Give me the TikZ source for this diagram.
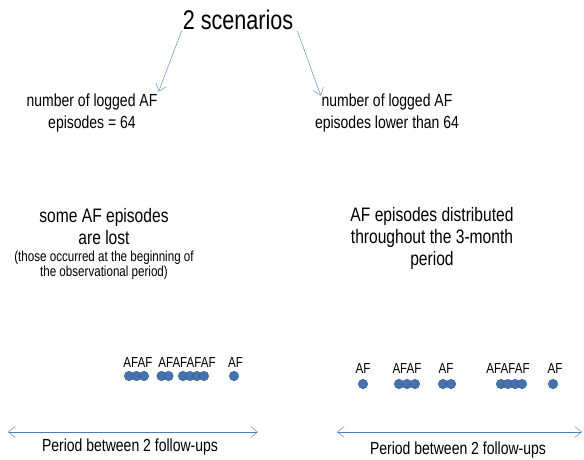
\documentclass[tikz,border=0pt]{standalone}
\usepackage{fontspec}
\setmainfont{Liberation Sans}[FakeStretch=0.8]
\usetikzlibrary{arrows.meta, positioning}
\definecolor{lineBlue}{RGB}{74,126,187}
\definecolor{dotFill}{RGB}{70,115,175}
\definecolor{dotEdge}{RGB}{50,85,130}
\tikzset{
    flowArrow/.style={-{Straight Barb[length=7pt, width=11pt]}, lineBlue, thin},
    periodArrow/.style={{Straight Barb[length=7pt, width=11pt]}-{Straight Barb[length=7pt, width=11pt]}, lineBlue, thin},
    caseText/.style={inner sep=0pt, align=center, font=\fontsize{17.5}{22}\selectfont},
    noteText/.style={inner sep=0pt, align=center, font=\fontsize{14.5}{15}\selectfont},
    afLabel/.style={inner sep=0pt, font=\fontsize{14.5}{14}\selectfont},
    afDot/.style={circle, draw=dotEdge, fill=dotFill, inner sep=0pt, minimum size=9.5pt},
}
\newcommand{\afDots}[2]{
    \foreach \px in {#2} {
        \node[afDot] at (\px, #1) {};
    }
}

\begin{document}
\begin{tikzpicture}[x=1pt, y=-1pt]
    \useasboundingbox (0,0) rectangle (584,459);

    \node[inner sep=1pt, font=\fontsize{27}{27}\selectfont] (title) at (238, 20) {2 scenarios};

    \node[caseText] (nlA) at (92, 113) {number of logged AF\\episodes = 64};
    \node[caseText] (nlB) at (387, 113) {number of logged AF\\episodes lower than 64};
    \draw[flowArrow] (title.south west) -- ([xshift=1pt, yshift=2pt]nlA.north east);
    \draw[flowArrow] ([xshift=3pt]title.south east) -- ([xshift=6pt, yshift=-2pt]nlB.north west);

    \node[caseText, font=\fontsize{19.5}{22}\selectfont] (lostA) at (104, 227) {some AF episodes\\are lost};
    \node[noteText] (noteA) at (104, 265) {(those occurred at the beginning of\\the observational period)};
    \node[caseText, font=\fontsize{19.5}{22}\selectfont] (distB) at (432, 238) {AF episodes distributed\\throughout the 3-month\\period};

    % episodes, left case
    \node[afLabel] (afA1) at (138, 363) {AFAF};
    \node[afLabel] (afA2) at (187, 363) {AFAFAFAF};
    \node[afLabel] (afA3) at (235.5, 363) {AF};
    \afDots{376}{129, 136.5, 144, 161.5, 168.5, 183, 190, 197, 204, 234}

    % episodes, right case
    \node[afLabel] (afB1) at (363, 369) {AF};
    \node[afLabel] (afB2) at (407, 369) {AFAF};
    \node[afLabel] (afB3) at (446, 369) {AF};
    \node[afLabel] (afB4) at (508, 369) {AFAFAF};
    \node[afLabel] (afB5) at (555, 369) {AF};
    \afDots{384}{363, 399, 407, 415, 443, 451, 501, 508, 515, 522, 553}

    \coordinate (pA0) at (8, 432);
    \coordinate (pA1) at (258, 432);
    \coordinate (pB0) at (337, 432);
    \coordinate (pB1) at (582, 432);
    \draw[periodArrow] (pA0) -- (pA1);
    \draw[periodArrow] (pB0) -- (pB1);
    \node[caseText] (perA) at (130, 447) {Period between 2 follow-ups};
    \node[caseText] (perB) at (458, 450) {Period between 2 follow-ups};
\end{tikzpicture}
\end{document}
